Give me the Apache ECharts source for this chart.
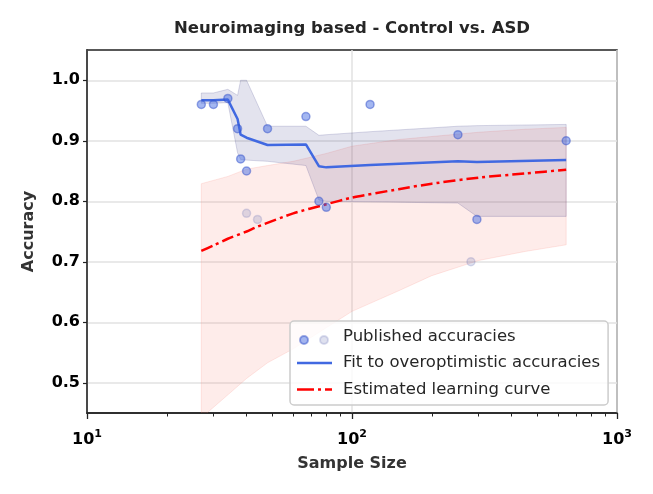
<!DOCTYPE html>
<html>
<head>
<meta charset="utf-8">
<title>Neuroimaging based - Control vs. ASD</title>
<script src="https://cdn.jsdelivr.net/npm/echarts@6/dist/echarts.min.js"></script>
<style>
  html, body { margin: 0; padding: 0; background: #fff; }
  #chart { width: 653px; height: 494px; }
</style>
</head>
<body>
<div id="chart"></div>
<script>
// published accuracies (sample size, accuracy)
const pubN = [27, 30, 34, 37, 38, 40, 48, 67, 75, 80, 117, 251, 296, 643];
const pubAcc = [0.96, 0.96, 0.97, 0.92, 0.87, 0.85, 0.92, 0.94, 0.80, 0.79, 0.96, 0.91, 0.77, 0.90];
// faded points
const exN = [40, 44, 281];
const exAcc = [0.78, 0.77, 0.70];

// fit to overoptimistic accuracies + its band
const fitN = [27, 30, 34, 37, 38, 40, 48, 67, 75, 80, 117, 251, 296, 643];
const fitAcc = [0.967, 0.967, 0.968, 0.936, 0.91, 0.905, 0.893, 0.894, 0.858, 0.856, 0.860, 0.866, 0.865, 0.868];
const fitLow = [0.962, 0.962, 0.963, 0.88, 0.869, 0.868, 0.866, 0.859, 0.802, 0.800, 0.799, 0.797, 0.775, 0.775];
const fitHigh = [0.979, 0.979, 0.985, 0.975, 1.0, 1.0, 0.924, 0.924, 0.909, 0.910, 0.915, 0.924, 0.925, 0.927];

// estimated learning curve + its band
const curveN = [27, 30, 34, 40, 44, 60, 80, 100, 150, 200, 300, 450, 643];
const curveAcc = [0.718, 0.727, 0.738, 0.750, 0.758, 0.780, 0.795, 0.806, 0.820, 0.829, 0.839, 0.846, 0.852];
const bandN = [27, 34, 40, 48, 60, 80, 100, 150, 200, 300, 450, 643];
const bandLow = [0.442, 0.48, 0.507, 0.533, 0.556, 0.591, 0.618, 0.652, 0.677, 0.702, 0.717, 0.728];
const bandHigh = [0.829, 0.841, 0.853, 0.859, 0.866, 0.879, 0.891, 0.902, 0.907, 0.914, 0.919, 0.922];

// ticks
const yTicks = [0.5, 0.6, 0.7, 0.8, 0.9, 1.0];
const xMinorTicks = [20, 30, 40, 50, 60, 70, 80, 90, 200, 300, 400, 500, 600, 700, 800, 900];
const xMajorTicks = [10, 100, 1000];

const FONT = 'DejaVu Sans';

function zip(xs, ys) {
    return xs.map((x, i) => [x, ys[i]]);
}

// band polygon drawn through the axes (like fill_between)
function bandSeries(xs, lo, hi, fill, edge) {
    return {
        type: 'custom',
        silent: true,
        data: [[xs[0], lo[0]]],
        renderItem: function (params, api) {
            const pts = [];
            for (let i = 0; i < xs.length; i++) pts.push(api.coord([xs[i], hi[i]]));
            for (let i = xs.length - 1; i >= 0; i--) pts.push(api.coord([xs[i], lo[i]]));
            const cs = params.coordSys;
            return {
                type: 'group',
                clipPath: { type: 'rect', shape: { x: cs.x, y: cs.y, width: cs.width, height: cs.height } },
                children: [{
                    type: 'polygon',
                    shape: { points: pts },
                    style: { fill: fill, stroke: edge, lineWidth: 1 }
                }]
            };
        },
        z: 1
    };
}

const chart = echarts.init(document.getElementById('chart'), null, { renderer: 'canvas' });

const dotBlue = { color: 'rgba(65,105,225,0.6)', borderColor: 'rgba(50,80,200,0.6)', borderWidth: 1.5 };
const dotFaded = { color: 'rgba(110,120,185,0.28)', borderColor: 'rgba(110,120,185,0.3)', borderWidth: 1.5 };

const option = {
    backgroundColor: '#fff',
    animation: false,
    title: {
        text: 'Neuroimaging based - Control vs. ASD',
        left: 347,
        textAlign: 'center',
        top: 15,
        textStyle: { fontFamily: FONT, fontSize: 16.5, fontWeight: 'bold', color: '#262626' }
    },
    grid: {
        left: 87, right: 36, top: 50, bottom: 81,
        show: true, borderColor: '#222', borderWidth: 1.5, backgroundColor: 'transparent'
    },
    legend: [{
        orient: 'vertical',
        left: 290,
        top: 321,
        padding: [6, 8, 6, 7],
        itemGap: 7.5,
        itemWidth: 35,
        itemHeight: 16,
        backgroundColor: 'rgba(255,255,255,0.8)',
        borderColor: '#cccccc',
        borderWidth: 1.5,
        borderRadius: 4,
        selectedMode: false,
        textStyle: { fontFamily: FONT, fontSize: 16.5, color: '#262626', lineHeight: 19, padding: [0, 0, 0, 6] },
        data: [
            { name: 'Published accuracies', icon: 'circle', itemStyle: { opacity: 0 } },
            { name: 'Fit to overoptimistic accuracies', icon: 'path://M0,0h35v2.5h-35z' },
            { name: 'Estimated learning curve', icon: 'path://M0,0h17v2.5h-17zM21,0h3v2.5h-3zM28,0h7v2.5h-7z' }
        ],
        z: 6
    }, {
        orient: 'vertical',
        left: 299,
        top: 335,
        padding: 0,
        itemWidth: 8,
        itemHeight: 8,
        selectedMode: false,
        formatter: function () { return ''; },
        textStyle: { fontSize: 1, lineHeight: 8 },
        data: [{ name: 'Published accuracies', icon: 'circle' }],
        z: 7
    }, {
        orient: 'vertical',
        left: 319,
        top: 335,
        padding: 0,
        itemWidth: 8,
        itemHeight: 8,
        selectedMode: false,
        formatter: function () { return ''; },
        textStyle: { fontSize: 1, lineHeight: 8 },
        data: [{ name: 'Excluded accuracies', icon: 'circle' }],
        z: 7
    }],
    xAxis: [{
        type: 'log',
        logBase: 10,
        min: 10,
        max: 1000,
        name: 'Sample Size',
        nameLocation: 'middle',
        nameGap: 43,
        nameTextStyle: { fontFamily: FONT, fontSize: 16, fontWeight: 'bold', color: '#333' },
        axisLine: { show: true, onZero: false, lineStyle: { color: '#222', width: 1.5 } },
        axisTick: { show: false },
        splitLine: { show: true, lineStyle: { color: '#e2e2e2', width: 1.5 } },
        minorTick: { show: false },
        axisLabel: {
            margin: 16,
            formatter: function (v) {
                const e = Math.round(Math.log10(v));
                return '{b|10}{s|' + e + '}';
            },
            rich: {
                b: { fontFamily: FONT, fontSize: 16, fontWeight: 'bold', color: '#000' },
                s: { fontFamily: FONT, fontSize: 11, fontWeight: 'bold', color: '#000', padding: [0, 0, 10, 0] }
            }
        }
    }, {
        // minor ticks, placed in log10 space
        type: 'value',
        min: 1,
        max: 3,
        position: 'bottom',
        axisLine: { show: false },
        axisLabel: { show: false, customValues: xMinorTicks.map(Math.log10) },
        splitLine: { show: false },
        axisTick: { show: true, length: 3.5, customValues: xMinorTicks.map(Math.log10), lineStyle: { color: '#222', width: 1 } }
    }, {
        // major ticks
        type: 'value',
        min: 1,
        max: 3,
        position: 'bottom',
        axisLine: { show: false },
        axisLabel: { show: false, customValues: xMajorTicks.map(Math.log10) },
        splitLine: { show: false },
        axisTick: { show: true, length: 6, customValues: xMajorTicks.map(Math.log10), lineStyle: { color: '#222', width: 1.3 } }
    }],
    yAxis: {
        type: 'value',
        min: 0.45,
        max: 1.05,
        name: 'Accuracy',
        nameLocation: 'middle',
        nameGap: 50,
        nameTextStyle: { fontFamily: FONT, fontSize: 16, fontWeight: 'bold', color: '#333' },
        axisLine: { show: true, onZero: false, lineStyle: { color: '#222', width: 1.5 } },
        axisTick: { show: true, length: 4, customValues: yTicks, lineStyle: { color: '#222', width: 1.2 } },
        splitLine: { show: true, lineStyle: { color: '#e2e2e2', width: 1.5 } },
        axisLabel: {
            customValues: yTicks,
            margin: 7,
            fontFamily: FONT, fontSize: 16, fontWeight: 'bold', color: '#000',
            formatter: function (v) { return v.toFixed(1); }
        }
    },
    series: [
        bandSeries(bandN, bandLow, bandHigh, 'rgba(250,128,114,0.15)', 'rgba(250,128,114,0.18)'),
        bandSeries(fitN, fitLow, fitHigh, 'rgba(25,25,112,0.12)', 'rgba(25,25,112,0.16)'),
        {
            name: 'Fit to overoptimistic accuracies',
            type: 'line',
            data: zip(fitN, fitAcc),
            showSymbol: false,
            symbol: 'none',
            lineStyle: { color: '#4169e1', width: 2.5 },
            itemStyle: { color: '#4169e1' },
            z: 3
        },
        {
            name: 'Estimated learning curve',
            type: 'line',
            data: zip(curveN, curveAcc),
            showSymbol: false,
            symbol: 'none',
            smooth: 0.2,
            lineStyle: { color: '#ff0000', width: 2.5, type: [12, 4, 3, 4] },
            itemStyle: { color: '#ff0000' },
            z: 3
        },
        {
            name: 'Excluded accuracies',
            type: 'scatter',
            data: zip(exN, exAcc),
            symbolSize: 8,
            itemStyle: dotFaded,
            z: 4
        },
        {
            name: 'Published accuracies',
            type: 'scatter',
            data: zip(pubN, pubAcc),
            symbolSize: 8,
            itemStyle: dotBlue,
            z: 4
        }
    ]
};

chart.setOption(option);
</script>
</body>
</html>
